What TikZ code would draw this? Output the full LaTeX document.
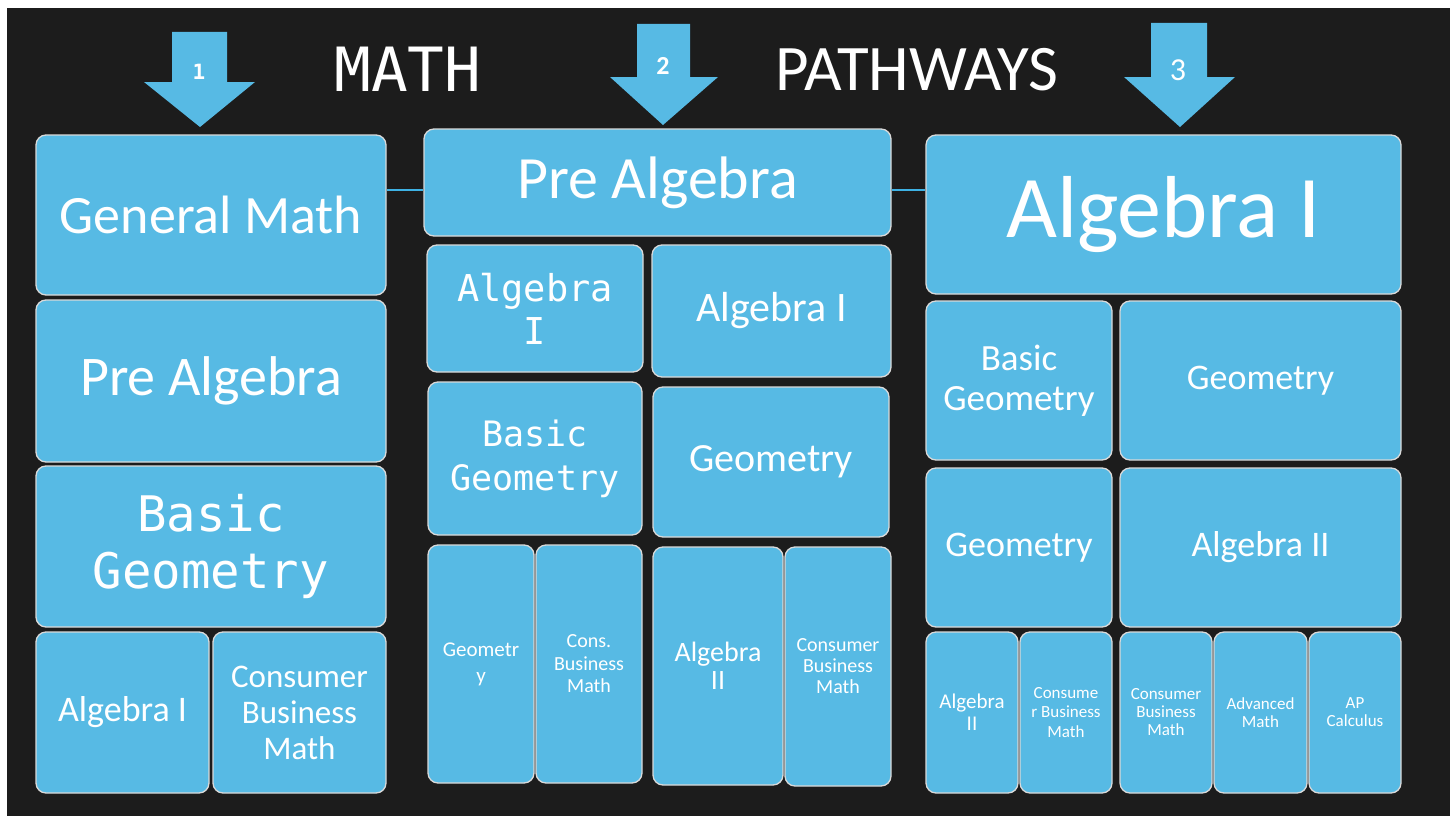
\documentclass[tikz,border=0pt]{standalone}
\usepackage{fontspec}
\setmainfont{Carlito}
\newfontfamily\monofont{DejaVu Sans Mono}
\usetikzlibrary{positioning}
\definecolor{tileblue}{RGB}{87,186,228}
\definecolor{chalk}{RGB}{28,28,28}
\definecolor{linkblue}{RGB}{62,178,228}
\newcommand\fsz[2]{\fontsize{#1}{#2}\selectfont}

\begin{document}
\begin{tikzpicture}[x=1pt,y=-1pt,
      tile/.style={
         rectangle,
         rounded corners=10pt,
         fill=tileblue,
         draw=white!85!black,
         line width=1.3pt,
         text=white,
         align=center,
         inner sep=0pt
      },
      num/.style={text=white},
      heading/.style={text=white, anchor=base},
      link/.style={draw=linkblue, line width=2.5pt},
    ]
    \useasboundingbox (0,0) rectangle (1450,816);
    \fill[white] (0,0) rectangle (1450,816);
    \fill[chalk] (7,8) rectangle (1450,816);

    % title and the three arrows
    \node (t1) [heading, font=\monofont\fsz{61}{61}] at (408,91) {MATH};
    \node (t2) [heading, font=\fsz{65}{65}] at (917,90) {PATHWAYS};
    \fill[tileblue] (172,32) -- (227,32) -- (227,82) -- (255,82) -- (200,127)
       -- (144,82) -- (172,82) -- cycle;
    \fill[tileblue] (637,24) -- (690,24) -- (690,77) -- (718,77) -- (663,125)
       -- (610,77) -- (637,77) -- cycle;
    \fill[tileblue] (1151,23) -- (1207,23) -- (1207,77) -- (1235,77) -- (1180,127)
       -- (1124,77) -- (1151,77) -- cycle;
    \node (a1) [num, font=\monofont\bfseries\fsz{21}{21}] at (199,72) {1};
    \node (a2) [num, font=\bfseries\fsz{26}{26}] at (663,66) {2};
    \node (a3) [num, font=\fsz{32}{32}] at (1178,70) {3};

    % pathway 1
    \node (n11) [tile, minimum width=350pt, minimum height=160pt, font=\fsz{54}{62}] at (211,215) {General Math};
    \node (n12) [tile, minimum width=350pt, minimum height=162pt, font=\fsz{56}{64}] at (211,381) {Pre Algebra};
    \node (n13) [tile, minimum width=350pt, minimum height=161pt, font=\monofont\fsz{49}{57}] at (211,546.5) {Basic\\Geometry};
    \node (n14) [tile, minimum width=173pt, minimum height=161pt, font=\fsz{36}{40}] at (122.5,712.5) {Algebra I};
    \node (n15) [tile, minimum width=173pt, minimum height=161pt, font=\fsz{33}{36}] at (299.5,712.5) {Consumer\\Business\\Math};

    % pathway 2
    \node (n21) [tile, minimum width=467pt, minimum height=107pt, font=\fsz{60}{66}] at (657.5,182.5) {Pre Algebra};
    \node (n22) [tile, minimum width=216pt, minimum height=127pt, font=\monofont\fsz{37}{43}] at (535,308.5) {Algebra\\I};
    \node (n23) [tile, minimum width=239pt, minimum height=132pt, font=\fsz{42}{48}] at (771.5,311) {Algebra I};
    \node (n24) [tile, minimum width=214pt, minimum height=153pt, font=\monofont\fsz{35}{44}] at (535,458.5) {Basic\\Geometry};
    \node (n25) [tile, minimum width=236pt, minimum height=150pt, font=\fsz{40}{46}] at (771,462) {Geometry};
    \node (n26) [tile, minimum width=106pt, minimum height=238pt, font=\fsz{21}{26}] at (481,664) {Geometr\\y};
    \node (n27) [tile, minimum width=106pt, minimum height=238pt, font=\fsz{20}{22.5}] at (589,664) {Cons.\\Business\\Math};
    \node (n28) [tile, minimum width=130pt, minimum height=238pt, font=\fsz{28}{28}] at (718,666) {Algebra\\II};
    \node (n29) [tile, minimum width=106pt, minimum height=239pt, font=\fsz{20}{21}] at (838,666.5) {Consumer\\Business\\Math};

    % pathway 3
    \node (n31) [tile, minimum width=475pt, minimum height=159pt, font=\fsz{88}{96}] at (1163.5,214.5) {Algebra I};
    \node (n32) [tile, minimum width=186pt, minimum height=159pt, font=\fsz{37}{40}] at (1019,380.5) {Basic\\Geometry};
    \node (n33) [tile, minimum width=281pt, minimum height=159pt, font=\fsz{36}{40}] at (1260.5,380.5) {Geometry};
    \node (n34) [tile, minimum width=186pt, minimum height=159pt, font=\fsz{36}{40}] at (1019,547.5) {Geometry};
    \node (n35) [tile, minimum width=281pt, minimum height=159pt, font=\fsz{36}{40}] at (1260.5,547.5) {Algebra II};
    \node (n36) [tile, minimum width=92pt, minimum height=161pt, font=\fsz{21}{22}] at (972,712.5) {Algebra\\II};
    \node (n37) [tile, minimum width=92pt, minimum height=161pt, font=\fsz{17}{19.5}] at (1066,712.5) {Consume\\r Business\\Math};
    \node (n38) [tile, minimum width=92pt, minimum height=161pt, font=\fsz{17}{18}] at (1166,712.5) {Consumer\\Business\\Math};
    \node (n39) [tile, minimum width=93pt, minimum height=161pt, font=\fsz{17}{18}] at (1260.5,712.5) {Advanced\\Math};
    \node (n310) [tile, minimum width=92pt, minimum height=161pt, font=\fsz{17}{18}] at (1355,712.5) {AP\\Calculus};

    % links between the tops
    \coordinate (ly) at (0,190);
    \draw[link] (n11.east |- ly) -- (n21.west |- ly);
    \draw[link] (n21.east |- ly) -- (n31.west |- ly);
\end{tikzpicture}
\end{document}
